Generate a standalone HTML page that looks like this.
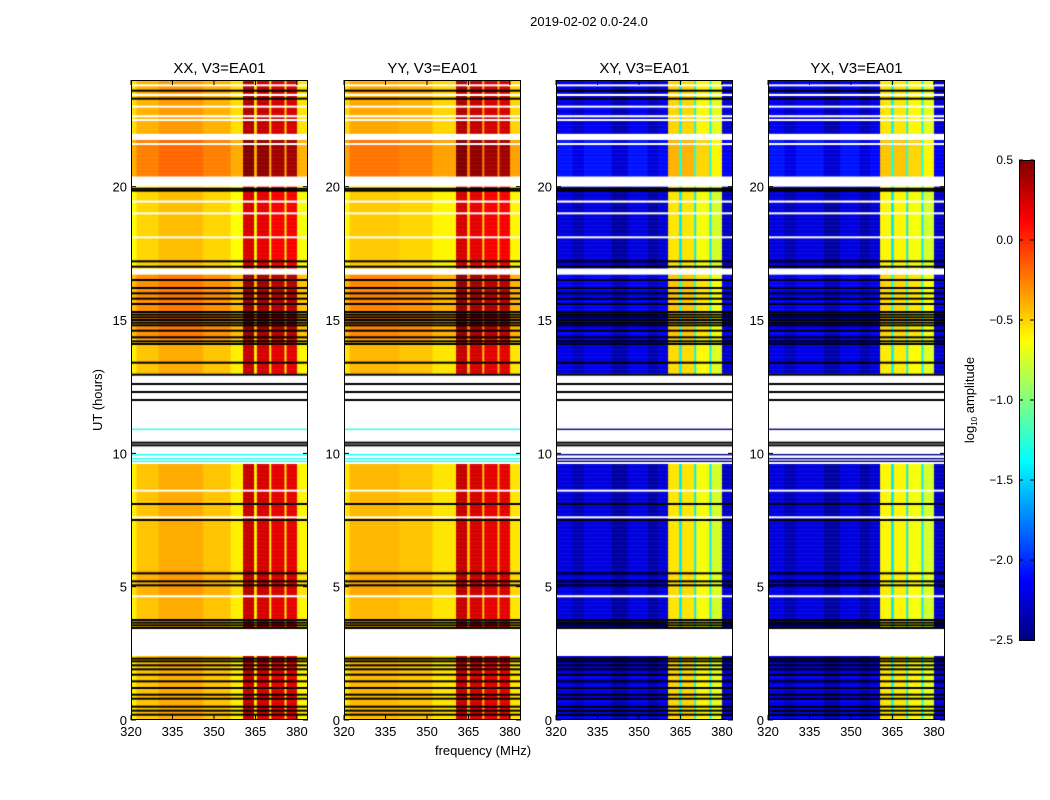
<!DOCTYPE html>
<html><head><meta charset="utf-8"><style>
body{margin:0;background:#fff;width:1050px;height:800px;overflow:hidden;font-family:"Liberation Sans",sans-serif;}
#wrap{position:relative;width:1050px;height:800px;}
canvas{position:absolute;}
svg{position:absolute;left:0;top:0;}
</style></head><body>
<div id="wrap">
<canvas id="c0" width="177" height="640" style="left:131px;top:80px"></canvas>
<canvas id="c1" width="176" height="640" style="left:344px;top:80px"></canvas>
<canvas id="c2" width="177" height="640" style="left:556px;top:80px"></canvas>
<canvas id="c3" width="177" height="640" style="left:768px;top:80px"></canvas>
<canvas id="cb" width="15" height="480" style="left:1019px;top:160px"></canvas>
<svg id="ax" width="1050" height="800"></svg>
</div>
<script>
// ---- data ----
const panelTitles = ["XX, V3=EA01","YY, V3=EA01","XY, V3=EA01","YX, V3=EA01"];
const freqTicks = [320,335,350,365,380];
const timeTicks = [0,5,10,15,20];
const cbTicks = [0.5,0.0,-0.5,-1.0,-1.5,-2.0,-2.5];
// frequency profiles: [fStart, fEnd, log10 amplitude]
const profXX = [[320,322,-0.58],[322,330,-0.45],[330,346,-0.38],[346,356,-0.45],[356,360.5,-0.58],[360.5,364.5,0.3],[364.5,365.5,-0.6],[365.5,370,0.25],[370,370.7,-0.6],[370.7,375.5,0.2],[375.5,376.2,-0.6],[376.2,380,0.2],[380,384,-0.6]];
const profYY = [[320,322,-0.55],[322,340,-0.42],[340,352,-0.45],[352,360.5,-0.55],[360.5,364.5,0.3],[364.5,365.5,-0.45],[365.5,370,0.25],[370,370.7,-0.45],[370.7,375.5,0.2],[375.5,376.2,-0.45],[376.2,380,0.2],[380,384,-0.55]];
const profXY = [[320,326,-2.22],[326,330,-2.35],[330,340,-2.22],[340,346,-2.4],[346,353,-2.22],[353,357,-2.38],[357,360.5,-2.25],[360.5,364.5,-0.55],[364.5,365.5,-1.45],[365.5,370,-0.55],[370,370.7,-1.45],[370.7,375.5,-0.65],[375.5,376.2,-1.45],[376.2,380,-0.75],[380,384,-2.3]];
const profYX = [[320,326,-2.22],[326,330,-2.35],[330,340,-2.22],[340,346,-2.4],[346,353,-2.22],[353,357,-2.38],[357,360.5,-2.25],[360.5,364.5,-0.6],[364.5,365.5,-1.45],[365.5,370,-0.6],[370,370.7,-1.45],[370.7,375.5,-0.65],[375.5,376.2,-1.45],[376.2,380,-0.75],[380,384,-2.3]];
// time level offsets: [tStart, tEnd, offset]
const levelsCo = [[0,2.35,0],[3.4,4.6,0],[4.6,5.6,0.05],[5.6,9.6,0],[13,14.3,0],[14.3,16.7,0.15],[16.95,19.4,-0.05],[19.5,20.0,-0.05],[20.4,21.75,0.2],[22,24,0.05]];
const levelsCross = [[0,2.35,0.05],[3.4,4.6,0],[4.6,5.6,0.03],[5.6,9.6,0],[13,14.3,0.03],[14.3,16.7,0.1],[16.95,19.4,0],[19.5,20.0,0],[20.4,21.75,0.15],[22,24,0.05]];
// flagged (white) intervals
const gaps = [[2.35,3.4],[4.55,4.65],[9.6,13.0],[16.7,16.95],[19.4,19.5],[20.0,20.4],[21.75,22.0],[22.6,22.7],[23.4,23.5]];
// black flag lines (hours)
const blackLines = [0.2,0.35,0.5,0.8,0.95,1.2,1.45,1.7,1.9,2.05,2.2,2.3,3.45,3.55,3.65,3.75,5.05,5.2,5.5,7.5,8.1,13.4,14.1,14.2,14.35,14.6,14.8,14.9,15.0,15.1,15.2,15.3,15.6,15.8,16.0,16.2,16.5,17.0,17.2,19.85,19.92,23.3,23.6,10.3,10.4,12.0,12.3,12.6,12.95];
const whiteLines = [7.6,8.6,18.1,19.0,21.6,22.5,23.0,23.8];
const blankLines = [9.7,9.8,9.95,10.9];
</script>
<script>
const W=177,H=640,fMin=320,fMax=384,tMax=24;
const xF=f=>(f-fMin)/(fMax-fMin)*W;
const yT=t=>H-t/tMax*H;
function jet(v){v=(v+2.5)/3;v=Math.max(0,Math.min(1,v));
 const c=x=>Math.round(255*Math.max(0,Math.min(1,x)));
 return `rgb(${c(1.5-Math.abs(4*v-3))},${c(1.5-Math.abs(4*v-2))},${c(1.5-Math.abs(4*v-1))})`;}
function lvl(levels,t){for(const s of levels){if(t>=s[0]&&t<s[1])return s[2];}return null;}
function inGap(t){return gaps.some(g=>t>=g[0]&&t<g[1]);}
const profs=[profXX,profYY,profXY,profYX];
const blankCols=["#22ffee","#22ffee","#000088","#000088"];
profs.forEach((prof,i)=>{
 const ctx=document.getElementById('c'+i).getContext('2d');
 ctx.fillStyle='#fff';ctx.fillRect(0,0,W,H);
 const levels=i<2?levelsCo:levelsCross;
 const dt=0.05;
 for(let t=0;t<tMax;t+=dt){
  if(inGap(t))continue;const o=lvl(levels,t);if(o===null)continue;
  for(const s of prof){ctx.fillStyle=jet(s[2]+o);
   ctx.fillRect(xF(s[0]),yT(t+dt),xF(s[1])-xF(s[0])+0.5,yT(t)-yT(t+dt)+0.5);}
 }
 ctx.fillStyle='#fff';whiteLines.forEach(t=>ctx.fillRect(0,yT(t)-1,W,2));
 ctx.fillStyle='#000';blackLines.forEach(t=>ctx.fillRect(0,yT(t)-1,W,2));
 ctx.fillStyle=blankCols[i];blankLines.forEach(t=>ctx.fillRect(0,yT(t)-0.7,W,1.4));
});
const cb=document.getElementById('cb').getContext('2d');
for(let y=0;y<480;y++){cb.fillStyle=jet(0.5-y/480*3);cb.fillRect(0,y,15,1);}
// axes
const svg=document.getElementById('ax');const NS='http://www.w3.org/2000/svg';
function mk(tag,attrs,txt){const e=document.createElementNS(NS,tag);for(const k in attrs)e.setAttribute(k,attrs[k]);if(txt!==undefined)e.textContent=txt;svg.appendChild(e);return e;}
const lefts=[131,344,556,768];
lefts.forEach((L,i)=>{
 const r=mk('rect',{x:L+0.5,y:80.5,width:W-1,height:H-1,fill:'none',stroke:'#000','stroke-width':1});
 
 
 const tt=mk('text',{x:L+W/2,y:73,'text-anchor':'middle','font-size':15},panelTitles[i]);
 
 
 freqTicks.forEach(f=>{const x=L+xF(f);
  mk('line',{x1:x,y1:720,x2:x,y2:715,stroke:'#000'});mk('line',{x1:x,y1:80,x2:x,y2:85,stroke:'#000'});
  const t=mk('text',{x:x,y:736,'text-anchor':'middle','font-size':13},String(f));
  
  });
 timeTicks.forEach(h=>{const y=80+yT(h);
  mk('line',{x1:L,y1:y,x2:L+5,y2:y,stroke:'#000'});mk('line',{x1:L+W,y1:y,x2:L+W-5,y2:y,stroke:'#000'});
  const t=mk('text',{x:L-4,y:y+5,'text-anchor':'end','font-size':13},String(h));
  
  });
});
const cr=mk('rect',{x:1019.5,y:160.5,width:15,height:480,fill:'none',stroke:'#000'});


cbTicks.forEach(v=>{const y=160+(0.5-v)/3*480;
 mk('line',{x1:1019,y1:y,x2:1023,y2:y,stroke:'#000'});mk('line',{x1:1034,y1:y,x2:1030,y2:y,stroke:'#000'});
 const t=mk('text',{x:1013,y:y+4,'text-anchor':'end','font-size':12},(v<0?'\u2212':'')+Math.abs(v).toFixed(1));
 
 });
</script>
<svg width="1050" height="800" style="pointer-events:none">
<text x="589" y="26" text-anchor="middle" font-size="13">2019-02-02 0.0-24.0</text>
<text x="483" y="755" text-anchor="middle" font-size="13">frequency (MHz)</text>
<text x="102" y="400" text-anchor="middle" font-size="13" transform="rotate(-90 102 400)">UT (hours)</text>
<text x="974" y="400" text-anchor="middle" font-size="13" transform="rotate(-90 974 400)">log<tspan font-size="8" dy="3">10</tspan><tspan dy="-3"> amplitude</tspan></text>
</svg>
</body></html>
